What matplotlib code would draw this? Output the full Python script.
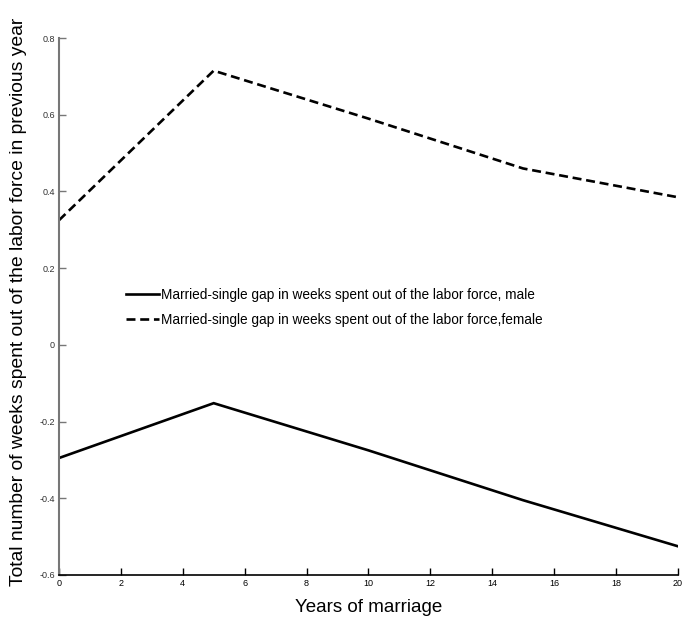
import matplotlib
matplotlib.use("Agg")
import matplotlib.pyplot as plt

plt.rcParams['font.family'] = ['Liberation Sans', 'DejaVu Sans']

years = [0, 5, 10, 15, 20]
gap_male = [-0.295, -0.152, -0.275, -0.405, -0.525]
gap_female = [0.325, 0.715, 0.590, 0.460, 0.385]
label_male = "Married-single gap in weeks spent out of the labor force, male"
label_female = "Married-single gap in weeks spent out of the labor force,female"
xticks = [0, 2, 4, 6, 8, 10, 12, 14, 16, 18, 20]
yticks = [-0.6, -0.4, -0.2, 0, 0.2, 0.4, 0.6, 0.8]
ytick_labels = ["-0.6", "-0.4", "-0.2", "0", "0.2", "0.4", "0.6", "0.8"]

fig = plt.figure(figsize=(6.86, 6.2), dpi=100)
ax = fig.add_axes([0.086, 0.0726, 0.902, 0.866])

ax.plot(years, gap_male, color='black', lw=1.9, solid_joinstyle='miter', label=label_male)
ax.plot(years, gap_female, color='black', lw=1.9, dashes=(3.4, 1.8), label=label_female)

ax.set_xlim(0, 20)
ax.set_ylim(-0.6, 0.8)
ax.set_xticks(xticks)
ax.set_xticklabels([str(t) for t in xticks])
ax.set_yticks(yticks)
ax.set_yticklabels(ytick_labels)

for s in ('top', 'right'):
    ax.spines[s].set_visible(False)
ax.spines['left'].set_color('#777777')
ax.spines['left'].set_linewidth(1.5)
ax.spines['bottom'].set_color('black')
ax.spines['bottom'].set_linewidth(1.2)

ax.tick_params(direction='in', length=5, width=1, labelsize=6.5, pad=3, colors='black')
ax.tick_params(axis='y', colors='#777777', labelcolor='#333333')

ax.set_xlabel("Years of marriage", fontsize=13.5, labelpad=8)
ax.set_ylabel("Total number of weeks spent out of the labor force in previous year",
              fontsize=13.9)
ax.yaxis.set_label_coords(-0.051, 0.508)

leg = ax.legend(loc='upper left', bbox_to_anchor=(0.1, 0.545), frameon=False,
                fontsize=9.8, handlelength=2.4, handletextpad=0.15, labelspacing=0.82,
                borderaxespad=0)

fig.savefig("out.png", dpi=100)
